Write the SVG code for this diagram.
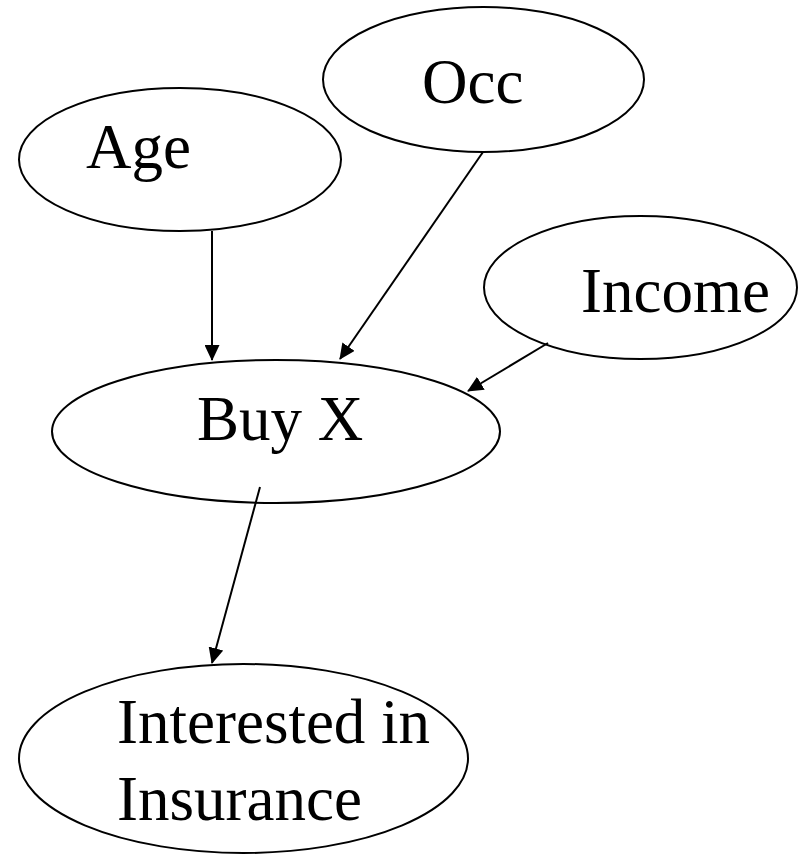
<svg xmlns="http://www.w3.org/2000/svg" width="798" height="856" viewBox="0 0 798 856">
<style>
.node ellipse{fill:#fff;stroke:#000;stroke-width:2}
.node text{font-family:"Liberation Serif","Times New Roman",serif;font-size:63px;fill:#000}
.edge{stroke:#000;stroke-width:2;fill:none;marker-end:url(#arr)}
</style>
<defs>
<marker id="arr" viewBox="0 0 16 15" refX="15" refY="7.5" markerWidth="16" markerHeight="15" markerUnits="userSpaceOnUse" orient="auto">
<path d="M0,0 L16,7.5 L0,15 Z" fill="#000"/>
</marker>
</defs>
<rect width="798" height="856" fill="#fff"/>
<g id="age" class="node"><ellipse cx="180" cy="159.5" rx="161" ry="71.5"/><text x="86" y="168">Age</text></g>
<g id="occ" class="node"><ellipse cx="483.5" cy="79.5" rx="160.5" ry="72.5"/><text x="422" y="103">Occ</text></g>
<g id="income" class="node"><ellipse cx="640.5" cy="287.5" rx="156.5" ry="71.5"/><text x="581" y="312">Income</text></g>
<g id="buyx" class="node"><ellipse cx="276" cy="431.5" rx="224" ry="71.5"/><text x="197" y="440">Buy X</text></g>
<g id="insurance" class="node"><ellipse cx="243.5" cy="758.5" rx="224.5" ry="94.5"/><text x="117" y="743">Interested in</text><text x="117" y="820">Insurance</text></g>
<g id="connectors">
<line class="edge" x1="212" y1="231" x2="212" y2="360"/>
<line class="edge" x1="483" y1="152" x2="340" y2="359"/>
<line class="edge" x1="548" y1="343" x2="468" y2="391"/>
<line class="edge" x1="260" y1="487" x2="212" y2="663"/>
</g>
</svg>
